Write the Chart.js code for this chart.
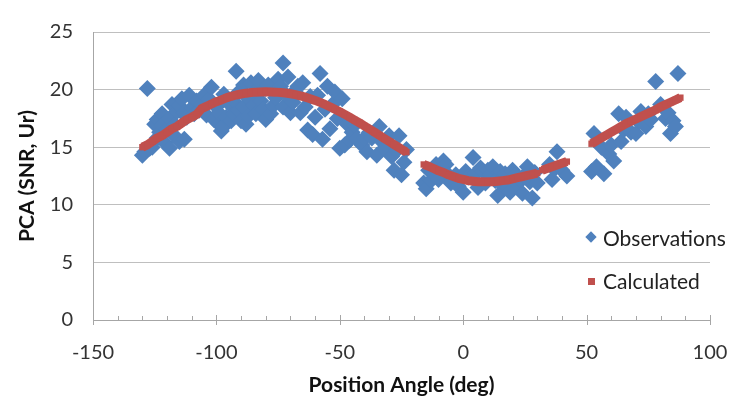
<!DOCTYPE html>
<html>
<head>
<meta charset="utf-8">
<script src="https://cdn.jsdelivr.net/npm/chart.js@4"></script>
<style>
  html, body { margin: 0; padding: 0; background: #fff; }
  #wrap { position: relative; width: 742px; height: 401px; }
  #legend { position: absolute; left: 584px; top: 223px; font-family: Lato, sans-serif; font-size: 21px; color: #222; }
  #legend div { position: relative; height: 43px; line-height: 30px; padding-left: 19px; }
  #legend .dia { position: absolute; left: 3px; top: 10px; width: 8px; height: 8px; background: #4f81bd; transform: rotate(45deg); }
  #legend .sq { position: absolute; left: 4px; top: 12px; width: 7px; height: 7px; background: #c0504d; }
</style>
</head>
<body>
<div id="wrap">
  <canvas id="myChart" width="742" height="401"></canvas>
  <div id="legend">
    <div><span class="dia"></span>Observations</div>
    <div><span class="sq"></span>Calculated</div>
  </div>
</div>
<script>
// observed PCA values vs position angle
const obsAngle = [
  -130, -129, -128, -127, -126, -125, -124, -124, -123, -122,
  -122, -121, -120, -119, -119, -118, -117, -117, -116, -115,
  -115, -114, -113, -113, -112, -111, -110, -109, -108, -107,
  -106, -105, -104, -103, -102, -101, -100, -99, -99, -98,
  -97, -97, -96, -95, -94, -93, -93, -92, -91, -91,
  -90, -89, -89, -88, -87, -87, -86, -85, -84, -84,
  -83, -82, -81, -80, -80, -79, -78, -77, -76, -75,
  -74, -73, -73, -72, -71, -70, -70, -69, -68, -67,
  -66, -65, -64, -63, -62, -61, -60, -59, -58, -57,
  -56, -55, -54, -53, -52, -51, -50, -49, -48, -47,
  -46, -45, -44, -43, -41, -40, -39, -38, -37, -35,
  -34, -33, -32, -30, -29, -28, -27, -26, -25, -24,
  -23, -16, -15, -14, -13, -12, -11, -10, -8, -7,
  -6, -5, -3, -2, 0, 1, 2, 4, 5, 6,
  7, 8, 9, 10, 11, 12, 13, 14, 15, 16,
  17, 18, 19, 20, 21, 22, 23, 24, 25, 26,
  27, 28, 29, 30, 35, 36, 37, 38, 40, 42,
  52, 53, 54, 56, 57, 59, 60, 61, 63, 64,
  65, 66, 68, 70, 71, 72, 74, 75, 76, 78,
  80, 82, 83, 84, 85, 86, 87
];
const obsPca = [
  14.3, 14.6, 20.1, 14.9, 15.0, 17.0, 17.4, 15.8, 16.3, 17.9,
  16.9, 15.4, 16.6, 14.9, 17.5, 18.7, 16.0, 17.0, 18.1, 15.5,
  18.6, 19.2, 15.7, 18.0, 17.6, 19.5, 18.4, 17.9, 19.0, 18.2,
  18.7, 19.5, 17.8, 19.2, 20.2, 17.4, 18.5, 17.0, 18.0, 16.4,
  19.6, 16.8, 17.6, 18.8, 17.3, 17.9, 19.0, 21.6, 19.8, 18.2,
  17.3, 20.4, 18.5, 17.0, 19.2, 17.7, 20.6, 18.6, 17.9, 19.9,
  20.8, 19.0, 18.3, 17.4, 20.1, 20.4, 17.9, 18.6, 19.3, 20.9,
  20.3, 22.3, 18.5, 19.6, 21.1, 18.0, 19.5, 18.9, 19.8, 20.3,
  18.0, 20.6, 18.5, 16.5, 19.4, 16.1, 17.6, 19.5, 21.4, 15.7,
  18.3, 20.3, 16.6, 18.7, 19.8, 17.5, 14.9, 19.2, 15.2, 17.0,
  15.6, 16.3, 16.9, 15.7, 15.2, 15.8, 14.6, 16.3, 15.8, 14.3,
  16.8, 15.5, 14.9, 16.0, 14.2, 13.0, 14.7, 16.0, 12.6, 13.7,
  14.8, 11.9, 11.4, 13.0, 12.1, 12.7, 13.5, 12.2, 13.8, 13.5,
  12.6, 11.9, 12.6, 11.6, 11.1, 12.9, 12.4, 14.1, 12.7, 11.5,
  13.2, 12.9, 11.9, 13.0, 12.6, 13.3, 12.1, 10.8, 12.9, 11.7,
  12.7, 11.5, 11.1, 13.0, 12.6, 11.8, 12.2, 11.0, 12.6, 13.3,
  12.0, 10.6, 12.8, 11.9, 13.5, 12.2, 13.1, 14.6, 13.0, 12.5,
  12.9, 16.2, 13.3, 15.0, 12.7, 14.4, 15.2, 13.8, 17.9, 15.5,
  16.5, 17.6, 16.3, 16.2, 17.2, 18.1, 16.8, 17.9, 17.4, 20.7,
  18.7, 17.5, 18.0, 16.2, 17.3, 16.8, 21.4
];

// model curve in four pieces; a null value breaks the line between pieces
const calcAngle = [
  -130, -128, -126, -124, -122, -120, -118, -116, -114, -112, -110, -108,
  -106, -104, -102, -100, -98, -96, -94, -92, -90, -88, -86, -84, -82, -80, -78, -76,
  -74, -72, -70, -68, -66, -64, -62, -60, -58, -56, -54, -52, -50, -48, -46, -44,
  -42, -40, -38, -36, -34, -32, -30, -28, -26, -24, -23,
  -20,
  -16, -14, -12, -10, -8, -6, -4, -2, 0, 2, 4, 6, 8, 10, 12, 14, 16, 18, 20, 22, 24, 26, 28, 30,
  31,
  32, 34, 36, 38, 40, 42,
  47,
  52, 54, 56, 58, 60, 62, 64, 66, 68, 70, 72, 74, 76, 78, 80, 82, 84, 86, 88
];
const calcPca = [
  15.0, 15.2, 15.5, 15.8, 16.0, 16.3, 16.6, 16.8, 17.1, 17.4, 17.6, 17.85,
  18.35, 18.55, 18.75, 18.95, 19.1, 19.28, 19.42, 19.53, 19.62, 19.69, 19.74, 19.78, 19.8, 19.81, 19.8, 19.78,
  19.75, 19.7, 19.64, 19.56, 19.46, 19.34, 19.21, 19.06, 18.89, 18.71, 18.51, 18.3, 18.08, 17.85, 17.61, 17.36,
  17.11, 16.84, 16.58, 16.31, 16.04, 15.76, 15.49, 15.22, 14.96, 14.69, 14.57,
  null,
  13.5, 13.35, 13.15, 12.95, 12.8, 12.6, 12.45, 12.3, 12.2, 12.1, 12.05, 12.0, 12.0, 12.0, 12.0, 12.05, 12.1, 12.15, 12.25, 12.35, 12.45, 12.55, 12.65, 12.75,
  null,
  13.0, 13.15, 13.3, 13.45, 13.6, 13.75,
  null,
  15.3, 15.55, 15.8, 16.05, 16.3, 16.55, 16.8, 17.05, 17.25, 17.45, 17.65, 17.85, 18.05, 18.25, 18.5, 18.7, 18.9, 19.1, 19.3
];

const xMin = -150;
const xMax = 100;
const yMin = 0;
const yMax = 25;

function toPoints(xs, ys) {
  return xs.map((x, i) => ({ x: x, y: ys[i] }));
}

// Excel-style tick marks on the x axis: major every 50, minor every 10
const axisTicks = {
  id: "axisTicks",
  afterDraw(chart) {
    const ctx = chart.ctx;
    const xs = chart.scales.x;
    const yAxis = chart.scales.y.getPixelForValue(0);
    ctx.save();
    ctx.strokeStyle = "#a6a6a6";
    ctx.lineWidth = 1;
    for (let v = xMin; v <= xMax; v += 10) {
      const px = Math.round(xs.getPixelForValue(v)) + 0.5;
      const major = v % 50 === 0;
      ctx.beginPath();
      ctx.moveTo(px, yAxis - (major ? 5 : 4));
      ctx.lineTo(px, yAxis + (major ? 5 : 1));
      ctx.stroke();
    }
    ctx.restore();
  },
};

function initChart() {
  const ctx = document.getElementById("myChart");
  Chart.defaults.font.family = "Lato, sans-serif";
  Chart.defaults.color = "#333";

  return new Chart(ctx, {
    type: "scatter",
    data: {
      datasets: [
        {
          label: "Calculated",
          data: toPoints(calcAngle, calcPca),
          showLine: true,
          spanGaps: false,
          borderColor: "#c0504d",
          borderWidth: 9,
          borderCapStyle: "butt",
          borderJoinStyle: "round",
          backgroundColor: "#c0504d",
          pointStyle: "rect",
          pointRadius: 4.5,
          pointHoverRadius: 4.5,
          pointBorderWidth: 0,
          order: 0,
        },
        {
          label: "Observations",
          data: toPoints(obsAngle, obsPca),
          pointStyle: "rectRot",
          pointRadius: 8.5,
          pointHoverRadius: 8.5,
          backgroundColor: "#4f81bd",
          borderColor: "#4f81bd",
          borderWidth: 0,
          order: 1,
        },
      ],
    },
    options: {
      responsive: false,
      animation: false,
      layout: { padding: { top: 12, right: 32, left: 0, bottom: 0 } },
      plugins: {
        legend: { display: false },
        tooltip: { enabled: false },
      },
      scales: {
        x: {
          type: "linear",
          min: xMin,
          max: xMax,
          grid: { display: false },
          border: { color: "#a6a6a6", width: 1 },
          ticks: {
            stepSize: 50,
            padding: 13,
            font: { size: 20 },
            color: "#333",
            maxRotation: 0,
          },
          title: {
            display: true,
            text: "Position Angle (deg)",
            font: { size: 21, weight: "bold" },
            color: "#111",
            padding: { top: 0, bottom: 3 },
          },
          afterFit(scale) {
            scale.height = 81;
          },
        },
        y: {
          min: yMin,
          max: yMax,
          grid: { color: "#bfbfbf", drawTicks: false },
          border: { color: "#a6a6a6", width: 1 },
          ticks: {
            stepSize: 5,
            padding: 20,
            font: { size: 20 },
            color: "#333",
          },
          title: {
            display: true,
            text: "PCA (SNR, Ur)",
            font: { size: 21, weight: "bold" },
            color: "#111",
            padding: { top: 15, bottom: 0 },
          },
          afterFit(scale) {
            scale.width = 93;
          },
        },
      },
    },
    plugins: [axisTicks],
  });
}

document.addEventListener("DOMContentLoaded", () => initChart());
</script>
</body>
</html>
